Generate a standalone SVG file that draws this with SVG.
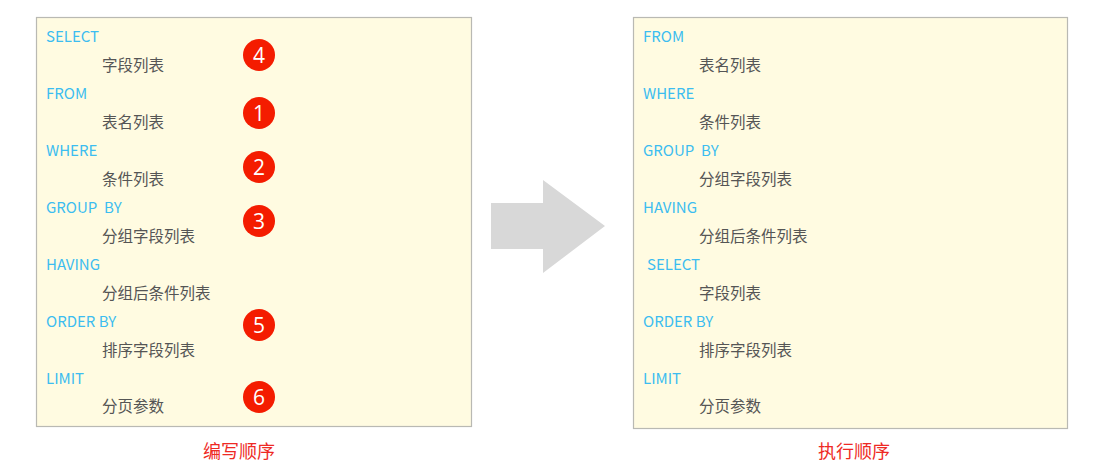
<svg xmlns="http://www.w3.org/2000/svg" width="1099" height="468" viewBox="0 0 1099 468">
<style>
.box{fill:#fffbe1;stroke:#b9b9b3;stroke-width:1.2}
.kw{font-family:"Noto Sans CJK SC","Noto Sans",sans-serif;font-size:15px;fill:#3cbdf0}
.cn{font-family:"Noto Sans CJK SC",sans-serif;font-size:15.5px;fill:#555555}
.ttl{font-family:"Noto Sans CJK SC",sans-serif;font-size:18px;fill:#ee2a24;text-anchor:middle}
.dot{fill:#f41c00}
.num{font-family:"Open Sans","Noto Sans",sans-serif;font-size:21px;fill:#ffffff;text-anchor:middle}
</style>
<rect width="1099" height="468" fill="#ffffff"/>
<g id="left-box">
<rect class="box" x="36.5" y="17.5" width="435" height="409"/>
<text class="kw" x="46" y="42">SELECT</text>
<text class="cn" x="102" y="71">字段列表</text>
<text class="kw" x="46" y="99">FROM</text>
<text class="cn" x="102" y="128">表名列表</text>
<text class="kw" x="46" y="156">WHERE</text>
<text class="cn" x="102" y="185">条件列表</text>
<text class="kw" x="46" y="213" xml:space="preserve">GROUP  BY</text>
<text class="cn" x="102" y="242">分组字段列表</text>
<text class="kw" x="46" y="270">HAVING</text>
<text class="cn" x="102" y="299">分组后条件列表</text>
<text class="kw" x="46" y="327">ORDER BY</text>
<text class="cn" x="102" y="356">排序字段列表</text>
<text class="kw" x="46" y="384">LIMIT</text>
<text class="cn" x="102" y="412">分页参数</text>
</g>
<g id="badges">
<circle class="dot" cx="259" cy="55" r="16"/><text class="num" x="259" y="62.5">4</text>
<circle class="dot" cx="259" cy="113" r="16"/><text class="num" x="259" y="120.5">1</text>
<circle class="dot" cx="259" cy="167" r="16"/><text class="num" x="259" y="174.5">2</text>
<circle class="dot" cx="259" cy="221" r="16"/><text class="num" x="259" y="228.5">3</text>
<circle class="dot" cx="259" cy="325" r="16"/><text class="num" x="259" y="332.5">5</text>
<circle class="dot" cx="259" cy="397" r="16"/><text class="num" x="259" y="404.5">6</text>
</g>
<g id="connectors">
<polygon points="491,203 543,203 543,180 605,226 543,273 543,249 491,249" fill="#d8d8d8"/>
</g>
<g id="right-box">
<rect class="box" x="633.5" y="17.5" width="434" height="411"/>
<text class="kw" x="643" y="42">FROM</text>
<text class="cn" x="699" y="71">表名列表</text>
<text class="kw" x="643" y="99">WHERE</text>
<text class="cn" x="699" y="128">条件列表</text>
<text class="kw" x="643" y="156" xml:space="preserve">GROUP  BY</text>
<text class="cn" x="699" y="185">分组字段列表</text>
<text class="kw" x="643" y="213">HAVING</text>
<text class="cn" x="699" y="242">分组后条件列表</text>
<text class="kw" x="647" y="270">SELECT</text>
<text class="cn" x="699" y="299">字段列表</text>
<text class="kw" x="643" y="327">ORDER BY</text>
<text class="cn" x="699" y="356">排序字段列表</text>
<text class="kw" x="643" y="384">LIMIT</text>
<text class="cn" x="699" y="412">分页参数</text>
</g>
<g id="titles">
<text class="ttl" x="239" y="458">编写顺序</text>
<text class="ttl" x="854" y="458">执行顺序</text>
</g>
</svg>
